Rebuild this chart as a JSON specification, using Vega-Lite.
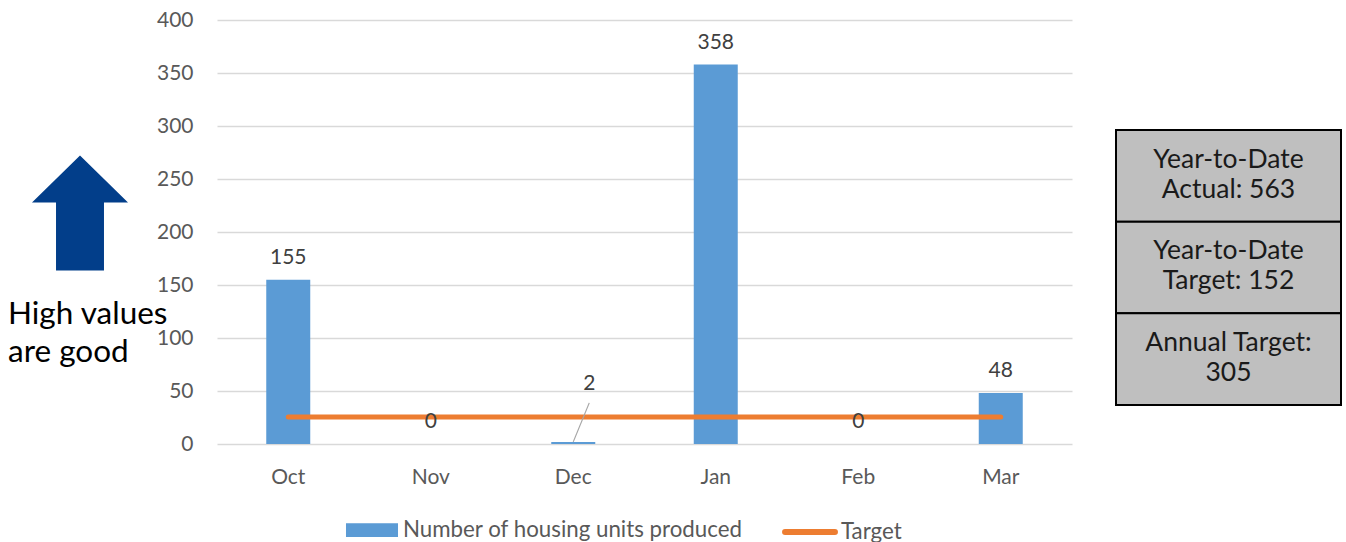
{
  "$schema": "https://vega.github.io/schema/vega-lite/v6.json",
  "padding": {"left": 0, "top": 9, "right": 0, "bottom": 0},
  "background": "white",
  "config": {
    "view": {"stroke": null},
    "font": "Lato",
    "text": {"font": "Lato"}
  },
  "bounds": "flush",
  "spacing": 44,
  "hconcat": [
    {
      "width": 173,
      "height": 424,
      "data": {"values": [{"note": "High values\nare good"}]},
      "layer": [
        {
          "mark": {
            "type": "point",
            "filled": true,
            "shape": "M0,-1L0.835,-0.183L0.417,-0.183L0.417,1L-0.417,1L-0.417,-0.183L-0.835,-0.183Z",
            "size": 13225,
            "opacity": 1,
            "xOffset": -6.5,
            "color": "#023E8A"
          },
          "encoding": {
            "y": {"datum": 218, "type": "quantitative", "scale": {"domain": [0, 400]}, "axis": null}
          }
        },
        {
          "mark": {
            "type": "text",
            "align": "left",
            "baseline": "middle",
            "dx": -78.5,
            "fontSize": 31.5,
            "lineHeight": 38,
            "lineBreak": "\n",
            "color": "#000000"
          },
          "encoding": {
            "y": {"datum": 122, "type": "quantitative", "scale": {"domain": [0, 400]}, "axis": null},
            "text": {"field": "note"}
          }
        }
      ]
    },
    {
      "width": 855,
      "height": 424,
      "data": {
        "values": [
          {"month": "Oct", "units": 155, "target": 25.4},
          {"month": "Nov", "units": 0, "target": 25.4},
          {"month": "Dec", "units": 2, "target": 25.4},
          {"month": "Jan", "units": 358, "target": 25.4},
          {"month": "Feb", "units": 0, "target": 25.4},
          {"month": "Mar", "units": 48, "target": 25.4}
        ]
      },
      "encoding": {
        "x": {
          "field": "month",
          "type": "nominal",
          "sort": null,
          "scale": {"paddingInner": 0, "paddingOuter": 0},
          "axis": {
            "title": null,
            "labelAngle": 0,
            "domain": false,
            "ticks": false,
            "labelFont": "Lato",
            "labelFontSize": 21,
            "labelColor": "#595959",
            "labelPadding": 22
          }
        }
      },
      "layer": [
        {
          "mark": {"type": "bar", "size": 44},
          "encoding": {
            "y": {
              "field": "units",
              "type": "quantitative",
              "scale": {"domain": [0, 400]},
              "axis": {
                "title": null,
                "values": [0, 50, 100, 150, 200, 250, 300, 350, 400],
                "domain": false,
                "ticks": false,
                "gridColor": "#D9D9D9",
                "gridWidth": 1.5,
                "labelFont": "Lato",
                "labelFontSize": 21,
                "labelColor": "#595959",
                "labelPadding": 24
              }
            },
            "color": {
              "datum": "Number of housing units produced",
              "scale": {
                "domain": ["Number of housing units produced", "Target"],
                "range": ["#5B9BD5", "#ED7D31"]
              },
              "legend": {
                "title": null,
                "orient": "none",
                "direction": "horizontal",
                "legendX": 343,
                "legendY": 481,
                "padding": 0,
                "symbolSize": 2704,
                "symbolType": "square",
                "symbolStrokeWidth": 6,
                "labelFont": "Lato",
                "labelFontSize": 22.3,
                "labelColor": "#595959",
                "labelLimit": 0,
                "labelOffset": 2,
                "columnPadding": 30,
                "encode": {
                  "symbols": {
                    "update": {
                      "shape": {"signal": "datum.value === 'Target' ? 'M-0.96,0H0.96' : 'M-0.885,-0.148H0.885V0.148H-0.885Z'"},
                      "fill": {"signal": "datum.value === 'Target' ? 'transparent' : '#5B9BD5'"},
                      "stroke": {"signal": "datum.value === 'Target' ? '#ED7D31' : '#5B9BD5'"},
                      "strokeWidth": {"value": 6},
                      "strokeCap": {"signal": "datum.value === 'Target' ? 'round' : 'butt'"},
                      "strokeJoin": {"value": "miter"},
                      "opacity": {"value": 1},
                      "fillOpacity": {"value": 1},
                      "strokeOpacity": {"value": 1}
                    }
                  }
                }
              }
            }
          }
        },
        {
          "mark": {"type": "line", "strokeWidth": 5, "strokeCap": "round"},
          "encoding": {
            "y": {"field": "target", "type": "quantitative"},
            "color": {"datum": "Target"}
          }
        },
        {
          "mark": {"type": "rule", "color": "#A6A6A6", "strokeWidth": 1.2, "x2Offset": 16, "y2Offset": -39},
          "transform": [{"filter": "datum.month === 'Dec'"}],
          "encoding": {
            "y": {"field": "units", "type": "quantitative"},
            "x2": {"field": "month"},
            "y2": {"field": "units"}
          }
        },
        {
          "mark": {"type": "text", "baseline": "middle", "dy": -22, "fontSize": 21, "color": "#404040"},
          "transform": [{"filter": "datum.month !== 'Dec'"}],
          "encoding": {
            "y": {"field": "units", "type": "quantitative"},
            "text": {"field": "units"}
          }
        },
        {
          "mark": {"type": "text", "baseline": "middle", "dx": 16, "dy": -58, "fontSize": 21, "color": "#404040"},
          "transform": [{"filter": "datum.month === 'Dec'"}],
          "encoding": {
            "y": {"field": "units", "type": "quantitative"},
            "text": {"field": "units"}
          }
        }
      ]
    },
    {
      "width": 225,
      "height": 424,
      "data": {
        "values": [
          {"box": "ytd_actual", "label": "Year-to-Date\nActual: 563"},
          {"box": "ytd_target", "label": "Year-to-Date\nTarget: 152"},
          {"box": "annual_target", "label": "Annual Target:\n305"}
        ]
      },
      "encoding": {
        "y": {
          "field": "box",
          "type": "nominal",
          "sort": null,
          "scale": {"paddingInner": 0, "paddingOuter": 0.8127, "align": 0.738},
          "axis": null
        }
      },
      "layer": [
        {
          "mark": {"type": "rect", "fill": "#BFBFBF", "stroke": "#000000", "strokeWidth": 2}
        },
        {
          "mark": {
            "type": "text",
            "baseline": "middle",
            "dy": -16,
            "fontSize": 26.5,
            "lineHeight": 30,
            "lineBreak": "\n",
            "color": "#1A1A1A"
          },
          "encoding": {"text": {"field": "label"}}
        }
      ]
    }
  ]
}
